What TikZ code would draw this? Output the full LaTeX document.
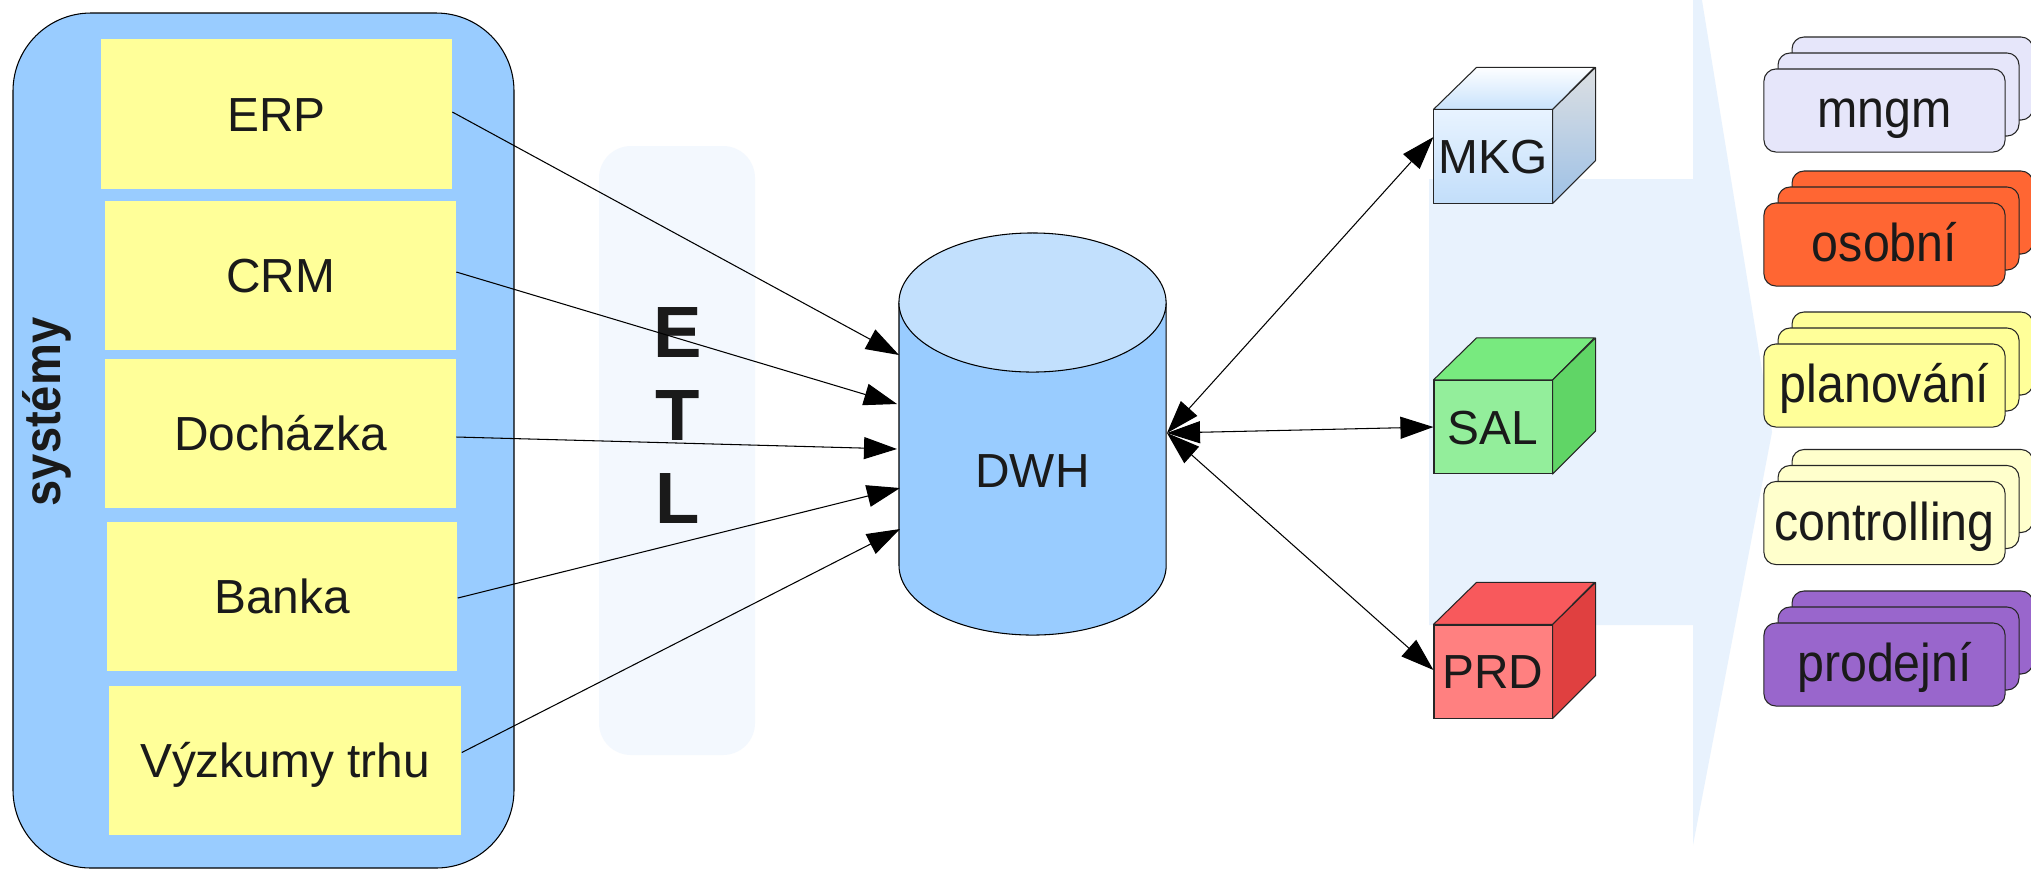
\documentclass[tikz,border=0pt]{standalone}
\usepackage{fontspec}
\setmainfont{Liberation Sans}
\usetikzlibrary{arrows.meta,calc}
\definecolor{sysblue}{HTML}{99CCFF}
\definecolor{ybox}{HTML}{FFFF99}
\definecolor{dwhtop}{HTML}{C2E0FD}
\definecolor{etlbg}{HTML}{F3F8FE}
\definecolor{arrbg}{HTML}{E8F2FD}
\definecolor{txt}{HTML}{1A1A1A}
\definecolor{mkgfa}{HTML}{E8F3FF}
\definecolor{mkgfb}{HTML}{C2DEFA}
\definecolor{mkgta}{HTML}{FDFEFF}
\definecolor{mkgtb}{HTML}{C8E2FC}
\definecolor{mkgsa}{HTML}{DCDFE2}
\definecolor{mkgsb}{HTML}{9EC1E6}
\definecolor{salf}{HTML}{93EE9B}
\definecolor{salt}{HTML}{78EA7F}
\definecolor{sals}{HTML}{60D566}
\definecolor{prdf}{HTML}{FF8080}
\definecolor{prdt}{HTML}{F8595C}
\definecolor{prds}{HTML}{E04040}
\definecolor{cmngm}{HTML}{E6E6FA}
\definecolor{cosob}{HTML}{FF6633}
\definecolor{cplan}{HTML}{FFFF99}
\definecolor{ccont}{HTML}{FFFFCC}
\definecolor{cprod}{HTML}{9966CC}
\newcommand\lblfont{\fontsize{13.6pt}{15pt}\selectfont}
\newcommand\rlblfont{\fontsize{13.75pt}{15pt}\selectfont}
\newcommand\etlfont{\fontsize{20.66pt}{23.6pt}\selectfont\bfseries}
\newcommand\stackbox[5]{%
  \draw[stk,fill=#4] (#2-92.5,#3-73.5) rectangle ++(241,83);
  \draw[stk,fill=#4] (#2-106.5,#3-57.5) rectangle ++(241,83);
  \node[stkfront,fill=#4] (#1) at (#2,#3) {\scalebox{1}[1.1]{#5}};
}
\begin{document}
\begin{tikzpicture}[x=0.01cm,y=-0.01cm,
  >={Triangle[length=0.33cm,width=0.22cm]},
  conn/.style={draw=black,line width=0.3pt},
  sysbox/.style={fill=ybox,inner sep=0pt,minimum width=3.5cm,minimum height=1.49cm,
    font=\lblfont,text=txt,text height=0.41cm,text depth=0.07cm},
  cubefront/.style={draw=black!85,line width=0.3pt,inner sep=0pt,minimum width=1.18cm,
    minimum height=0.93cm,font=\lblfont,text=txt,text height=0.41cm,text depth=0.07cm},
  face/.style={draw=black!85,line width=0.3pt,line join=round},
  stk/.style={draw=black!85,line width=0.3pt,rounded corners=0.12cm},
  stkfront/.style={stk,inner sep=0pt,minimum width=2.41cm,minimum height=0.83cm,
    font=\rlblfont,text=txt,text height=0.41cm,text depth=0.07cm}]
\clip (0,0) rectangle (2031,869);
\fill[white] (0,0) rectangle (2031,869);
% big background arrow
\fill[arrbg] (1429,179) -- (1693,179) -- (1693,-55) -- (1772,432) -- (1693,845)
  -- (1693,625) -- (1429,625) -- cycle;
% ETL band
\fill[etlbg,rounded corners=0.32cm] (599,146) rectangle (755,755);
\node[font=\etlfont,text=txt,align=center,inner sep=0pt] (etl) at (678,415) {E\\T\\L};
% systems container
\draw[fill=sysblue,draw=black,line width=0.3pt,rounded corners=0.78cm] (13,13) rectangle (514,868);
\node[rotate=90,anchor=base,font=\fontsize{13.4pt}{15pt}\selectfont\bfseries,text=txt,inner sep=0pt]
  (sys) at (60,412) {\scalebox{1}[1.1]{systémy}};
\node[sysbox] (erp) at (276.5,114) {ERP};
\node[sysbox] (crm) at (280.5,275.5) {CRM};
\node[sysbox] (doch) at (280.5,433.5) {Docházka};
\node[sysbox] (banka) at (282,596.5) {Banka};
\node[sysbox,minimum width=3.52cm] (vyz) at (285,760.5) {Výzkumy trhu};
% DWH cylinder
\fill[sysblue] (899,302.5) rectangle (1166,565.5);
\fill[sysblue] (1032.5,565.5) ellipse [x radius=1.335cm, y radius=0.695cm];
\draw[line width=0.3pt] (899,302.5) -- (899,565.5)
  arc[start angle=180,end angle=360,x radius=1.335cm,y radius=0.695cm] -- (1166,302.5);
\draw[line width=0.3pt,fill=dwhtop] (1032.5,302.5) ellipse [x radius=1.335cm, y radius=0.695cm];
\node[font=\lblfont,text=txt,text height=0.41cm,text depth=0.07cm,inner sep=0pt] (dwh) at (1032.5,470) {DWH};
\coordinate (in1) at (899,355);
\coordinate (in2) at (897,404);
\coordinate (in3) at (897,449);
\coordinate (in4) at (900,488);
\coordinate (in5) at (900,529);
\coordinate (out) at (1167,433);
% cubes
\node[cubefront] (mkg) at (1493,156.5) {};
\shade[top color=mkgfa,bottom color=mkgfb] (mkg.north west) rectangle (mkg.south east);
\draw[face] (mkg.north west) rectangle (mkg.south east);
\node[font=\lblfont,text=txt,text height=0.41cm,text depth=0.07cm,inner sep=0pt] (mkgl) at (mkg.center) {MKG};
\shade[top color=mkgta,bottom color=mkgtb] (mkg.north west) -- ++(43,-42) -- ++(118,0) -- (mkg.north east) -- cycle;
\draw[face] (mkg.north west) -- ++(43,-42) -- ++(118,0) -- (mkg.north east) -- cycle;
\shade[top color=mkgsa,bottom color=mkgsb] (mkg.north east) -- ++(43,-42) -- ++(0,93) -- (mkg.south east) -- cycle;
\draw[face] (mkg.north east) -- ++(43,-42) -- ++(0,93) -- (mkg.south east) -- cycle;
\node[cubefront,fill=salf] (sal) at (1493,427) {SAL};
\draw[face,fill=salt] (sal.north west) -- ++(43,-42) -- ++(118,0) -- (sal.north east) -- cycle;
\draw[face,fill=sals] (sal.north east) -- ++(43,-42) -- ++(0,93) -- (sal.south east) -- cycle;
\node[cubefront,fill=prdf] (prd) at (1493,671.5) {PRD};
\draw[face,fill=prdt] (prd.north west) -- ++(43,-42) -- ++(118,0) -- (prd.north east) -- cycle;
\draw[face,fill=prds] (prd.north east) -- ++(43,-42) -- ++(0,93) -- (prd.south east) -- cycle;
% stacked boxes
\stackbox{mngm}{1884.5}{110.5}{cmngm}{mngm}
\stackbox{osob}{1884.5}{244.5}{cosob}{osobní}
\stackbox{plan}{1884.5}{385.5}{cplan}{planování}
\stackbox{cont}{1884.5}{523}{ccont}{controlling}
\stackbox{prod}{1884.5}{664.5}{cprod}{prodejní}
% connectors
\draw[conn,->] ([yshift=0.02cm]erp.east) -- (in1);
\draw[conn,->] ([yshift=0.035cm]crm.east) -- (in2);
\draw[conn,->] ([yshift=-0.035cm]doch.east) -- (in3);
\draw[conn,->] ([yshift=-0.015cm]banka.east) -- (in4);
\draw[conn,->] ([yshift=0.08cm]vyz.east) -- (in5);
\draw[conn,<->] (out) -- ([yshift=0.195cm]mkg.west);
\draw[conn,<->] (out) -- (sal.west);
\draw[conn,<->] (out) -- ([yshift=0.015cm]prd.west);
\end{tikzpicture}
\end{document}
